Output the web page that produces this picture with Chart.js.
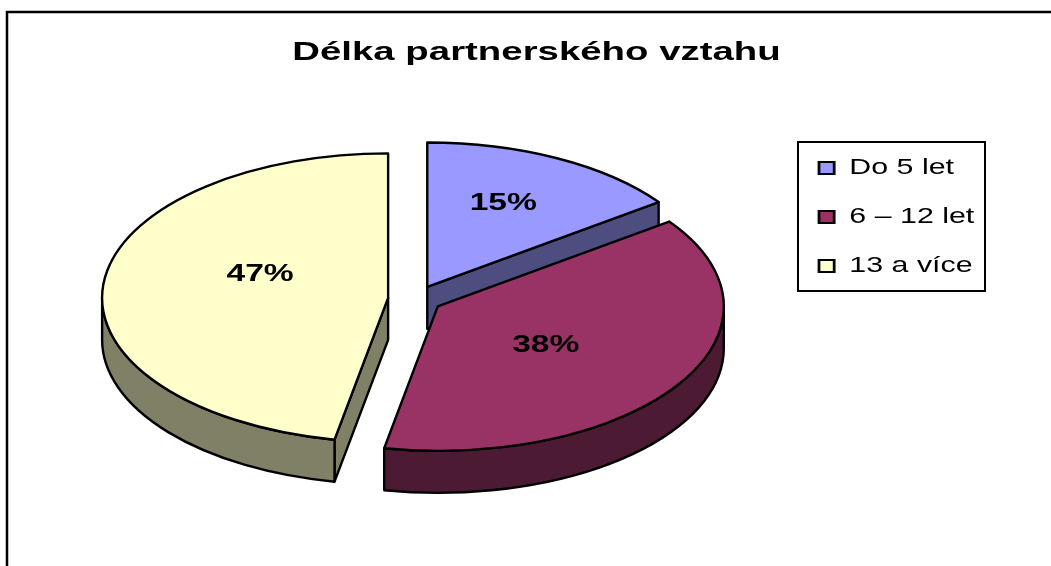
<!DOCTYPE html>
<html>
<head>
<meta charset="utf-8">
<style>html,body{margin:0;padding:0;background:#fff}#w{width:1051px;height:566px}canvas{display:block}</style>
<script src="https://cdn.jsdelivr.net/npm/chart.js@4"></script>
</head>
<body>
<div id="w"><canvas id="c" width="1051" height="566"></canvas></div>
<script>
const titleText = 'Délka partnerského vztahu';
const categories = ['Do 5 let', '6 – 12 let', '13 a více'];
const values = [15, 38, 47];
const topColors = ['#9999FF', '#993366', '#FFFFCC'];
const sideColors = ['#4D4D80', '#4D1A33', '#808066'];

const FONT = '"Liberation Sans", Arial, sans-serif';
const SQUASH = 0.505, DEPTH = 42, EXPLODE = 27, RADIUS = 286, OUTLINE = 2.4;
const STRETCH_TITLE = 1.476, STRETCH_LEGEND = 1.38, STRETCH_LABEL = 1.4;
const labelShift = [[76, -84], [108, 39], [-128, -23.5]];

function geom(arc) {
  const mid = (arc.startAngle + arc.endAngle) / 2;
  return {
    x: arc.x + Math.cos(mid) * EXPLODE,
    y: arc.y + Math.sin(mid) * EXPLODE * SQUASH,
    rx: arc.outerRadius, ry: arc.outerRadius * SQUASH,
    a0: arc.startAngle, a1: arc.endAngle
  };
}
const pt = (g, a, dy = 0) => [g.x + Math.cos(a) * g.rx, g.y + Math.sin(a) * g.ry + dy];

function side(ctx, color, build) {
  ctx.beginPath(); build(); ctx.closePath();
  ctx.fillStyle = color; ctx.fill();
  ctx.strokeStyle = '#000'; ctx.lineWidth = OUTLINE; ctx.lineJoin = 'round'; ctx.stroke();
}
function radialWall(ctx, g, a, color) {
  side(ctx, color, () => {
    const p = pt(g, a), q = pt(g, a, DEPTH);
    ctx.moveTo(g.x, g.y); ctx.lineTo(p[0], p[1]); ctx.lineTo(q[0], q[1]); ctx.lineTo(g.x, g.y + DEPTH);
  });
}
function stretchDraw(box, cx, sx) {
  if (box._stretched) return;
  const orig = box.draw;
  box.draw = function (area) {
    const ctx = this.ctx;
    ctx.save();
    ctx.translate(cx, 0); ctx.scale(sx, 1); ctx.translate(-cx, 0);
    orig.call(this, area);
    ctx.restore();
  };
  box._stretched = true;
}

const pie3d = {
  id: 'pie3d',
  afterDatasetsUpdate(chart) {
    chart.getDatasetMeta(0).data.forEach(arc => {
      if (arc._wrapped) return;
      const orig = arc.draw;
      arc.draw = function (ctx) {
        const g = geom(this);
        ctx.save();
        ctx.translate(g.x, g.y);
        ctx.scale(1, SQUASH);
        ctx.translate(-this.x, -this.y);
        orig.call(this, ctx);
        ctx.restore();
      };
      arc._wrapped = true;
    });
  },
  beforeDatasetsDraw(chart) {
    const {ctx} = chart;
    const arcs = chart.getDatasetMeta(0).data;
    ctx.save();
    arcs.forEach((arc, i) => {
      const g = geom(arc);
      const TWO = Math.PI * 2;
      if (Math.sin(g.a1 + Math.PI / 2) > 0.01) radialWall(ctx, g, g.a1, sideColors[i]);
      if (Math.sin(g.a0 - Math.PI / 2) > 0.01) radialWall(ctx, g, g.a0, sideColors[i]);
      [[0, Math.PI], [TWO, TWO + Math.PI]].forEach(([lo, hi]) => {
        const a = Math.max(g.a0, lo), b = Math.min(g.a1, hi);
        if (b > a) side(ctx, sideColors[i], () => {
          ctx.ellipse(g.x, g.y, g.rx, g.ry, 0, a, b);
          ctx.ellipse(g.x, g.y + DEPTH, g.rx, g.ry, 0, b, a, true);
        });
      });
    });
    ctx.restore();
  },
  afterDatasetsDraw(chart) {
    const {ctx} = chart;
    const arcs = chart.getDatasetMeta(0).data;
    const total = values.reduce((s, v) => s + v, 0);
    ctx.save();
    arcs.forEach(arc => {
      const g = geom(arc);
      ctx.beginPath();
      ctx.moveTo(g.x, g.y);
      ctx.ellipse(g.x, g.y, g.rx, g.ry, 0, g.a0, g.a1);
      ctx.closePath();
      ctx.strokeStyle = '#000'; ctx.lineWidth = OUTLINE; ctx.lineJoin = 'round'; ctx.stroke();
    });
    ctx.fillStyle = '#000';
    ctx.font = 'bold 24px ' + FONT;
    ctx.textAlign = 'center'; ctx.textBaseline = 'middle';
    arcs.forEach((arc, i) => {
      const g = geom(arc);
      ctx.save();
      ctx.translate(g.x + labelShift[i][0], g.y + labelShift[i][1]);
      ctx.scale(STRETCH_LABEL, 1);
      ctx.fillText(Math.round(values[i] / total * 100) + '%', 0, 0);
      ctx.restore();
    });
    ctx.restore();
  },
  beforeDraw(chart) {
    const {ctx, legend, titleBlock} = chart;
    ctx.save();
    ctx.strokeStyle = '#000'; ctx.lineWidth = 2.5;
    ctx.beginPath();
    ctx.moveTo(7, 566); ctx.lineTo(7, 12); ctx.lineTo(1051, 12);
    ctx.stroke();
    ctx.restore();
    legend.left = 792; legend.right = 1000;
    legend.top = 130; legend.bottom = 520;
    titleBlock.left = 0; titleBlock.right = 1073;
    titleBlock.top = 37; titleBlock.bottom = 37 + titleBlock.height;
    stretchDraw(legend, 819, STRETCH_LEGEND);
    stretchDraw(titleBlock, 536.5, STRETCH_TITLE);
  },
  afterDraw(chart) {
    const {ctx} = chart;
    ctx.save();
    ctx.strokeStyle = '#000'; ctx.lineWidth = 2;
    ctx.strokeRect(798, 142, 187, 149);
    ctx.restore();
  }
};

new Chart(document.getElementById('c'), {
  type: 'pie',
  data: {
    labels: categories,
    datasets: [{ data: values, backgroundColor: topColors, borderWidth: 0 }]
  },
  options: {
    responsive: false,
    animation: false,
    radius: RADIUS,
    layout: {padding: {left: 0, right: 221, top: 1, bottom: 0}},
    plugins: {
      tooltip: {enabled: false},
      title: {
        display: true, text: titleText, color: '#000',
        font: {family: FONT, size: 26, weight: 'bold'}, padding: 0
      },
      legend: {
        position: 'chartArea', align: 'start',
        labels: {
          color: '#000', font: {family: FONT, size: 22},
          boxWidth: 11, boxHeight: 12, padding: 27,
          generateLabels: () => categories.map((t, i) => ({
            text: t, fillStyle: topColors[i], strokeStyle: '#000', lineWidth: 2, index: i, hidden: false
          }))
        }
      }
    }
  },
  plugins: [pie3d]
});
</script>
</body>
</html>
